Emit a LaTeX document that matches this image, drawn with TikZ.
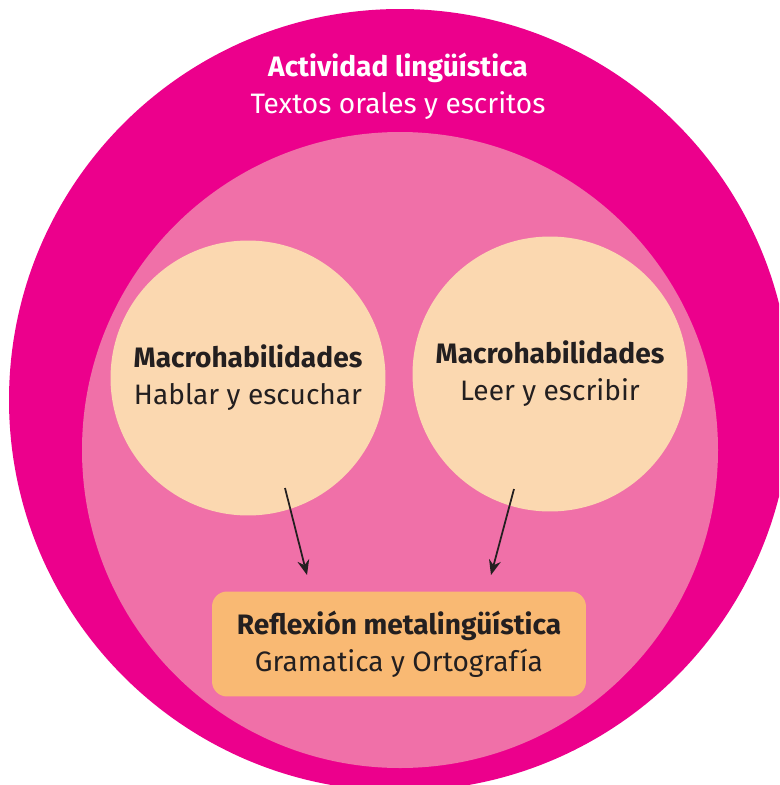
\documentclass[tikz,border=0pt]{standalone}
\usepackage{fontspec}
\setmainfont{Fira Sans}
\usetikzlibrary{arrows.meta}
\definecolor{magenta1}{RGB}{236,0,140}
\definecolor{pink1}{RGB}{240,112,168}
\definecolor{peach1}{RGB}{251,216,176}
\definecolor{orange1}{RGB}{249,185,115}
\definecolor{ink1}{RGB}{35,31,32}
\tikzset{
	habil/.style={circle, fill=peach1, minimum size=5.5cm, inner sep=0pt, align=center, text=ink1, font=\fontsize{16}{21}\selectfont},
	refl/.style={rectangle, rounded corners=0.3cm, fill=orange1, minimum width=7.48cm, minimum height=2.1cm, align=center, text=ink1, font=\fontsize{16}{21}\selectfont},
	arr/.style={-{Stealth[length=0.3cm, width=0.24cm]}, line width=1pt, draw=ink1}
}
\begin{document}
\begin{tikzpicture}[x=0.02cm, y=-0.02cm]
	\useasboundingbox (0,0) rectangle (779,785);
	\clip (0,0) rectangle (779,785);
	\fill[white] (0,0) rectangle (779,785);

	\fill[magenta1] (400,400) circle (391);
	\fill[pink1] (400,450) circle (318);

	\node[align=center, text=white, font=\fontsize{16}{21}\selectfont] (act) at (398,86)
		{\textbf{Actividad lingüística}\\Textos orales y escritos};

	\node[habil] (hab) at (248,378) {\textbf{Macrohabilidades}\\Hablar y escuchar};
	\node[habil] (lee) at (550,374) {\textbf{Macrohabilidades}\\Leer y escribir};

	\node[refl] (ref) at (399,644) {\textbf{Reflexión metalingüística}\\Gramatica y Ortografía};

	\coordinate (h1) at (285,488);
	\coordinate (h2) at (307,575);
	\coordinate (l1) at (514,489);
	\coordinate (l2) at (491,575);
	\draw[arr] (h1) -- (h2);
	\draw[arr] (l1) -- (l2);
\end{tikzpicture}
\end{document}
